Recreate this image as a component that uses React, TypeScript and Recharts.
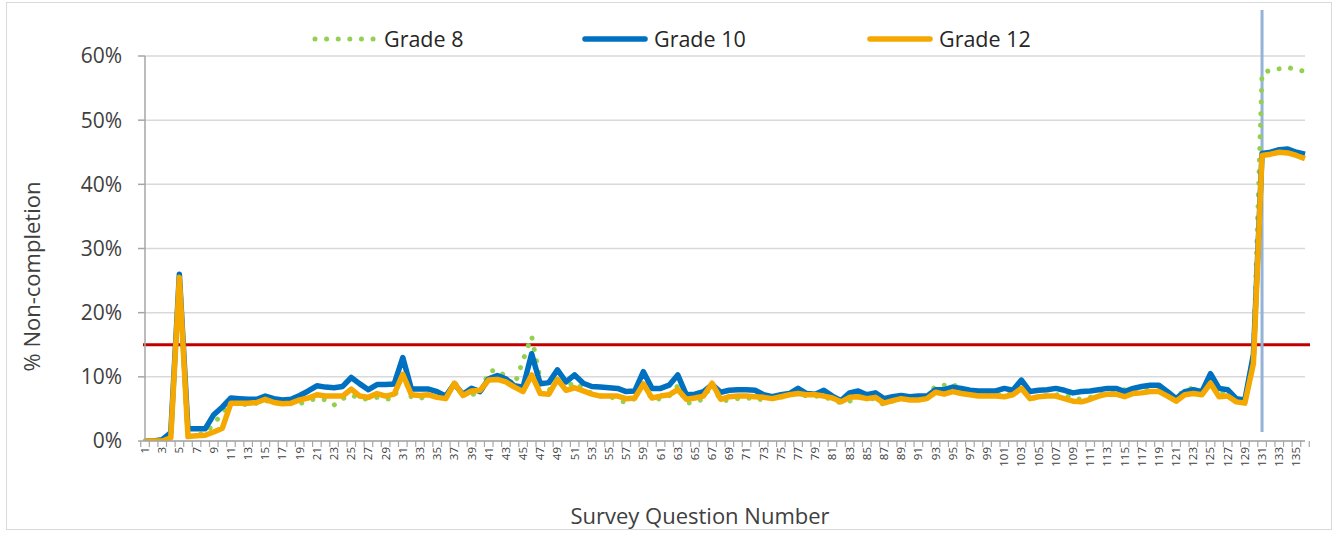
import React from 'react';
import { LineChart, Line, XAxis, YAxis, CartesianGrid, ReferenceLine } from 'recharts';

const questions: number[] = Array.from({ length: 136 }, (_, i) => i + 1);

const grade8: number[] = [
  0, 0, 0, 0.5, 26.5, 0.8, 1.0, 1.2, 2.6, 4.4,
  5.9, 5.8, 5.6, 5.9, 6.3, 6.0, 5.8, 5.8, 5.8, 6.3,
  6.6, 6.4, 5.6, 6.6, 7.2, 6.6, 6.5, 6.8, 6.5, 6.6,
  10.6, 6.8, 6.6, 7.2, 6.9, 6.6, 9.2, 7.2, 7.3, 7.3,
  10.8, 11.1, 10.0, 8.7, 12.6, 16.3, 9.5, 7.8, 10.0, 8.3,
  9.2, 8.2, 7.4, 7.0, 7.0, 6.4, 6.0, 6.6, 9.2, 6.4,
  6.6, 7.0, 8.6, 5.9, 6.0, 6.6, 9.0, 6.2, 6.4, 6.6,
  6.6, 6.8, 6.3, 6.8, 6.8, 7.2, 7.4, 7.0, 7.0, 6.8,
  6.5, 5.9, 6.2, 6.8, 6.6, 6.6, 5.6, 6.2, 6.6, 6.4,
  6.5, 6.8, 8.6, 8.7, 8.9, 8.0, 7.3, 7.2, 7.2, 7.0,
  7.6, 7.4, 9.6, 6.4, 7.0, 7.1, 7.2, 7.3, 6.6, 6.5,
  6.8, 7.2, 7.5, 7.6, 8.0, 7.6, 7.8, 8.0, 7.9, 7.3,
  7.5, 7.4, 8.5, 7.5, 10.4, 7.6, 7.5, 6.2, 6.3, 13.5,
  57.3, 57.8, 58.0, 58.2, 57.9, 57.6,
];

const grade10: number[] = [
  0, 0, 0.2, 1.3, 26.0, 1.9, 1.9, 1.9, 4.1, 5.3,
  6.7, 6.6, 6.5, 6.5, 7.0, 6.6, 6.4, 6.5, 7.1, 7.8,
  8.6, 8.4, 8.3, 8.5, 9.9, 8.9, 8.0, 8.8, 8.8, 8.9,
  13.0, 8.1, 8.1, 8.1, 7.7, 7.0, 8.9, 7.3, 8.2, 7.7,
  9.7, 10.2, 9.7, 8.6, 8.4, 13.6, 8.9, 9.1, 11.1, 9.2,
  10.3, 9.0, 8.5, 8.4, 8.3, 8.2, 7.7, 7.8, 10.8, 8.2,
  8.2, 8.7, 10.3, 7.2, 7.3, 7.7, 8.8, 7.6, 7.9, 8.0,
  8.0, 7.9, 7.2, 6.9, 7.2, 7.4, 8.2, 7.4, 7.3, 7.9,
  7.0, 6.3, 7.5, 7.8, 7.2, 7.5, 6.6, 6.9, 7.1, 6.9,
  7.0, 7.0, 8.0, 8.0, 8.4, 8.2, 7.9, 7.8, 7.8, 7.8,
  8.2, 7.9, 9.5, 7.7, 7.9, 8.0, 8.2, 7.9, 7.5, 7.7,
  7.8, 8.0, 8.2, 8.2, 7.7, 8.2, 8.5, 8.7, 8.7, 7.7,
  6.6, 7.7, 8.0, 7.7, 10.5, 8.2, 8.0, 6.6, 6.4, 13.5,
  44.8, 45.0, 45.4, 45.5, 45.0, 44.7,
];

const grade12: number[] = [
  0, 0, 0, 0.5, 25.5, 0.7, 0.8, 0.9, 1.4, 2.0,
  5.9, 5.9, 5.9, 6.0, 6.5, 6.0, 5.8, 5.9, 6.4, 6.7,
  7.2, 7.0, 7.0, 7.0, 8.1, 7.0, 6.8, 7.4, 7.0, 7.3,
  10.4, 7.2, 7.1, 7.2, 6.8, 6.6, 9.0, 7.1, 7.8, 7.9,
  9.5, 9.6, 9.2, 8.4, 7.7, 10.3, 7.4, 7.3, 9.6, 7.9,
  8.3, 7.8, 7.3, 7.0, 7.0, 7.0, 6.6, 6.7, 8.9, 6.7,
  7.0, 7.2, 8.0, 6.5, 6.7, 7.0, 9.0, 6.5, 6.9, 7.0,
  7.0, 6.9, 6.8, 6.6, 6.9, 7.2, 7.4, 7.2, 7.2, 7.0,
  6.7, 6.1, 6.8, 6.9, 6.6, 6.8, 5.9, 6.3, 6.6, 6.4,
  6.4, 6.6, 7.6, 7.3, 7.7, 7.4, 7.2, 7.0, 7.0, 7.0,
  6.9, 7.2, 8.2, 6.6, 6.9, 7.0, 7.0, 6.6, 6.2, 6.1,
  6.5, 7.0, 7.3, 7.3, 6.9, 7.4, 7.5, 7.7, 7.7, 7.0,
  6.2, 7.2, 7.4, 7.2, 9.0, 6.9, 7.0, 6.1, 5.9, 12.1,
  44.5, 44.7, 45.0, 44.9, 44.5, 44.0,
];

const yTicks: number[] = [0, 10, 20, 30, 40, 50, 60];
const thresholdValue = 15;
const cutoffQuestion = 131;

const seriesNames = ['Grade 8', 'Grade 10', 'Grade 12'];
const seriesColors = ['#92D050', '#0070C0', '#F5A800'];

const data = questions.map((q, i) => ({
  q,
  g8: grade8[i],
  g10: grade10[i],
  g12: grade12[i],
}));

const FONT = '"Segoe UI", "Open Sans", "Noto Sans", sans-serif';
const TEXT = '#404040';
const AXIS = '#a6a6a6';

const XTick = (props: any) => {
  const { x, y, payload, width, visibleTicksCount } = props;
  const off =
    payload && typeof payload.offset === 'number' && payload.offset > 0
      ? payload.offset
      : width / visibleTicksCount / 2;
  const v = payload.value;
  const axisY = y - 8;
  return (
    <g>
      <line x1={x - off} x2={x - off} y1={axisY} y2={axisY + 6} stroke={AXIS} strokeWidth={1.2} />
      {v === questions[questions.length - 1] && (
        <line x1={x + off} x2={x + off} y1={axisY} y2={axisY + 6} stroke={AXIS} strokeWidth={1.2} />
      )}
      {v % 2 === 1 && (
        <text
          transform={`translate(${x + 4},${axisY + 6}) rotate(-90)`}
          textAnchor="end"
          fontSize={11.5}
          fill={TEXT}
          fontFamily={FONT}
        >
          {v}
        </text>
      )}
    </g>
  );
};

const HLineShape = (p: any) => (
  <line
    x1={Math.min(p.x1, p.x2) - 2}
    x2={Math.max(p.x1, p.x2) + 5}
    y1={p.y1}
    y2={p.y2}
    stroke="#C00000"
    strokeWidth={3}
  />
);

const VLineShape = (p: any) => {
  const top = Math.min(p.y1, p.y2);
  const bot = Math.max(p.y1, p.y2);
  return <line x1={p.x1} x2={p.x2} y1={top - 46} y2={bot - 9} stroke="#95B3D7" strokeWidth={3} />;
};

const YLabel = (props: any) => {
  const vb = props.viewBox || {};
  const cy = vb.y + vb.height / 2 + 28;
  return (
    <text
      transform={`translate(${33 + 7},${cy}) rotate(-90)`}
      textAnchor="middle"
      fontSize={22}
      fill={TEXT}
      fontFamily={FONT}
    >
      % Non-completion
    </text>
  );
};

const XLabel = (props: any) => {
  const vb = props.viewBox || {};
  const cx = vb.x + vb.width / 2 - 25;
  return (
    <text x={cx} y={vb.y + 83} textAnchor="middle" fontSize={22} fill={TEXT} fontFamily={FONT}>
      Survey Question Number
    </text>
  );
};

const LegendIcon = ({ idx }: { idx: number }) => (
  <svg width={66} height={12} style={{ display: 'block' }}>
    {idx === 0 ? (
      <line x1={3} x2={63} y1={6} y2={6} stroke={seriesColors[0]} strokeWidth={5} strokeLinecap="round" strokeDasharray="0.01 11.6" />
    ) : (
      <line x1={3} x2={63} y1={6} y2={6} stroke={seriesColors[idx]} strokeWidth={5.5} strokeLinecap="round" />
    )}
  </svg>
);

const itemWidths = [270, 285, 200];

export default function App() {
  return (
    <div
      style={{
        position: 'absolute',
        left: 0,
        top: 0,
        width: 1336,
        height: 537,
        background: '#fff',
        fontFamily: FONT,
      }}
    >
      <div
        style={{
          position: 'absolute',
          left: 6,
          top: 2,
          width: 1326,
          height: 528,
          border: '1px solid #d9d9d9',
          boxSizing: 'border-box',
        }}
      />
      <div
        style={{
          position: 'absolute',
          left: 312,
          top: 25,
          display: 'flex',
          alignItems: 'center',
          zIndex: 2,
        }}
      >
        {seriesNames.map((n, i) => (
          <div key={n} style={{ width: itemWidths[i], display: 'flex', alignItems: 'center' }}>
            <LegendIcon idx={i} />
            <span style={{ fontSize: 21.5, color: '#262626', marginLeft: 6, lineHeight: '28px' }}>{n}</span>
          </div>
        ))}
      </div>
      <LineChart
        width={1336}
        height={537}
        data={data}
        margin={{ top: 56, right: 31, bottom: 0, left: 0 }}
        style={{ position: 'absolute', left: 0, top: 0 }}
      >
        <CartesianGrid vertical={false} stroke="#d9d9d9" strokeWidth={1.5} />
        <XAxis
          dataKey="q"
          type="category"
          interval={0}
          height={96}
          tickLine={false}
          tickSize={6}
          tickMargin={2}
          axisLine={{ stroke: AXIS, strokeWidth: 1.5 }}
          tick={<XTick />}
          label={<XLabel />}
        />
        <YAxis
          width={145}
          domain={[0, 60]}
          ticks={yTicks}
          interval={0}
          allowDataOverflow
          tickFormatter={(v: number) => `${v}%`}
          tick={{ fontSize: 21, fill: TEXT, fontFamily: FONT }}
          tickSize={7}
          tickMargin={16}
          tickLine={{ stroke: AXIS, strokeWidth: 1.5 }}
          axisLine={{ stroke: AXIS, strokeWidth: 1.5 }}
          label={<YLabel />}
        />
        <ReferenceLine y={thresholdValue} shape={<HLineShape />} ifOverflow="visible" />
        <ReferenceLine x={cutoffQuestion} shape={<VLineShape />} ifOverflow="visible" />
        <Line
          dataKey="g8"
          name={seriesNames[0]}
          type="linear"
          stroke={seriesColors[0]}
          strokeWidth={5}
          strokeLinecap="round"
          strokeDasharray="0.01 11.6"
          dot={false}
          activeDot={false}
          isAnimationActive={false}
        />
        <Line
          dataKey="g10"
          name={seriesNames[1]}
          type="linear"
          stroke={seriesColors[1]}
          strokeWidth={5.5}
          strokeLinejoin="round"
          dot={false}
          activeDot={false}
          isAnimationActive={false}
        />
        <Line
          dataKey="g12"
          name={seriesNames[2]}
          type="linear"
          stroke={seriesColors[2]}
          strokeWidth={5.5}
          strokeLinejoin="round"
          dot={false}
          activeDot={false}
          isAnimationActive={false}
        />
      </LineChart>
    </div>
  );
}
